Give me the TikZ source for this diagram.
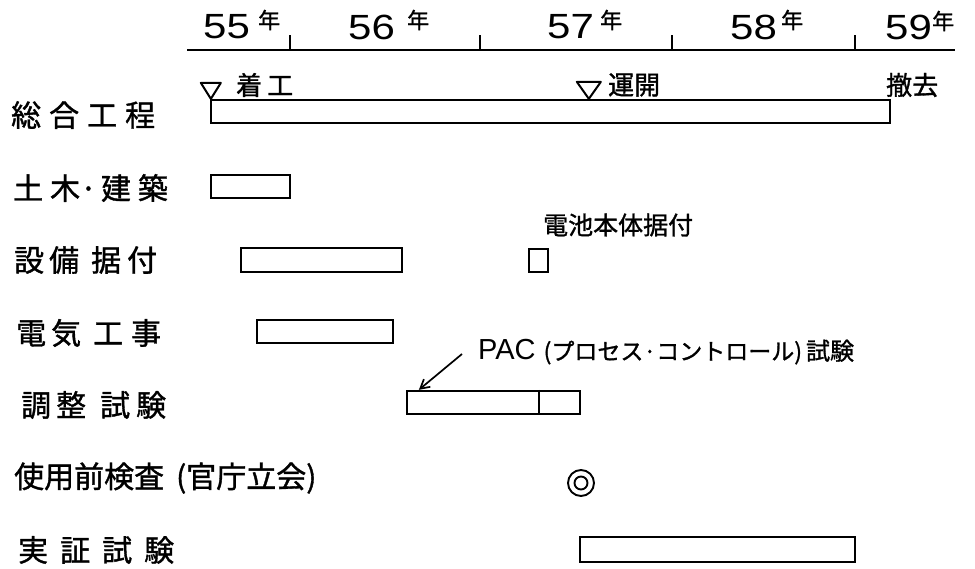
\documentclass[tikz,border=0pt]{standalone}
\usepackage{fontspec}
\setmainfont{Liberation Sans}
\newfontfamily\jp[FakeBold=1.2]{Noto Sans CJK JP}
\newfontfamily\digitfont[FakeStretch=1.2]{Liberation Sans}
\usetikzlibrary{arrows.meta}
\newcommand\gp{\hspace{8pt}}
\begin{document}
\begin{tikzpicture}[x=1pt,y=-1pt,line width=2.3pt,
  bar/.style={draw,line width=2.3pt,inner sep=0pt,minimum height=23pt},
  lbl/.style={font=\jp\fontsize{30}{30}\selectfont,anchor=west,inner sep=0pt},
  yr/.style={font=\digitfont\fontsize{35}{35}\selectfont,inner sep=0pt,anchor=west},
  nen/.style={font=\jp\fontsize{22}{22}\selectfont,inner sep=0pt,anchor=west},
  ann/.style={font=\jp\fontsize{26}{26}\selectfont,inner sep=0pt,anchor=west},
  tri/.style={draw,line width=2pt,line join=round}]
\useasboundingbox (0,0) rectangle (975,568);

% time axis
\coordinate (axl) at (187,50);
\coordinate (axr) at (955,50);
\draw (axl) -- (axr);
\foreach \x in {290,480,672,855} \draw (\x,35) -- (\x,50);
\node[yr] (y55) at (202,27) {55};
\node[nen] (n55) at (257,20) {年};
\node[yr] (y56) at (347,27) {56};
\node[nen] (n56) at (406,20) {年};
\node[yr] (y57) at (546,27) {57};
\node[nen] (n57) at (599,20) {年};
\node[yr] (y58) at (729,27) {58};
\node[nen] (n58) at (780,20) {年};
\node[yr] (y59) at (884,27) {59};
\node[nen] (n59) at (931,21) {年};

% row labels
\node[lbl] (l1) at (10,115) {総\gp 合\gp 工\gp 程};
\node[lbl] (l2) at (12,188) {土\hspace{7pt}木·\hspace{4pt}建\hspace{7pt}築};
\node[lbl] (l3) at (13,260) {設\hspace{5pt}備\hspace{12pt}据\hspace{6pt}付};
\node[lbl] (l4) at (15,333) {電\hspace{5pt}気\hspace{12pt}工\hspace{8pt}事};
\node[lbl] (l5) at (20,405) {調\hspace{5pt}整\hspace{14pt}試\hspace{6pt}験};
\node[lbl] (l6) at (13,478) {使用前検査\hspace{12pt}(官庁立会)};
\node[lbl] (l7) at (17,550) {実\hspace{12pt}証\hspace{12pt}試\hspace{12pt}験};

% bars
\node[bar,minimum width=679pt] (sogo) at (550.5,111.5) {};
\node[bar,minimum width=79pt] (doboku) at (250.5,186.5) {};
\node[bar,minimum width=161pt,minimum height=24pt] (setsubi) at (321.5,260) {};
\node[bar,minimum width=19pt] (denchi) at (538.5,260.5) {};
\node[bar,minimum width=136pt] (denki) at (325,331.5) {};
\node[bar,minimum width=173pt] (chosei) at (493.5,402.5) {};
\draw ([xshift=133pt]chosei.north west) -- ([xshift=133pt]chosei.south west);
\node[bar,minimum width=275pt,minimum height=25pt] (jissho) at (717.5,549.5) {};

% milestones
\draw[tri] ([xshift=1pt]sogo.north west) -- ++(-10,-16) -- ++(20,0) -- cycle;
\draw[tri] ([xshift=379pt]sogo.north west) -- ++(-12,-17) -- ++(24,0) -- cycle;
\node[ann] (chakko) at (235,85) {着\hspace{5pt}工};
\node[ann] (unkai) at (607,85) {運開};
\node[ann] (tekkyo) at (885,85) {撤去};

% annotations
\node[ann,font=\jp\fontsize{25}{25}\selectfont] (denchilbl) at (542,225) {電池本体据付};
\node[anchor=west,inner sep=0pt] (pac) at (477,352)
  {{\fontsize{29}{29}\selectfont PAC}\hspace{8pt}{\jp\fontsize{23}{23}\selectfont (プロセス·コントロール)\hspace{4pt}\fontsize{24}{24}\selectfont 試験}};
\coordinate (pacstart) at ([xshift=-15pt,yshift=-2pt]pac.west);
\draw[line width=1.7pt,-{Straight Barb[length=9pt,width=10pt,line width=1.7pt]}] (pacstart) -- ([xshift=13pt]chosei.north west);

% inspection mark
\node[circle,draw,line width=1.9pt,minimum size=26pt,inner sep=0pt] (kensa) at (581,483) {};
\node[circle,draw,line width=1.9pt,minimum size=13pt,inner sep=0pt] (kensain) at (kensa.center) {};
\end{tikzpicture}
\end{document}
